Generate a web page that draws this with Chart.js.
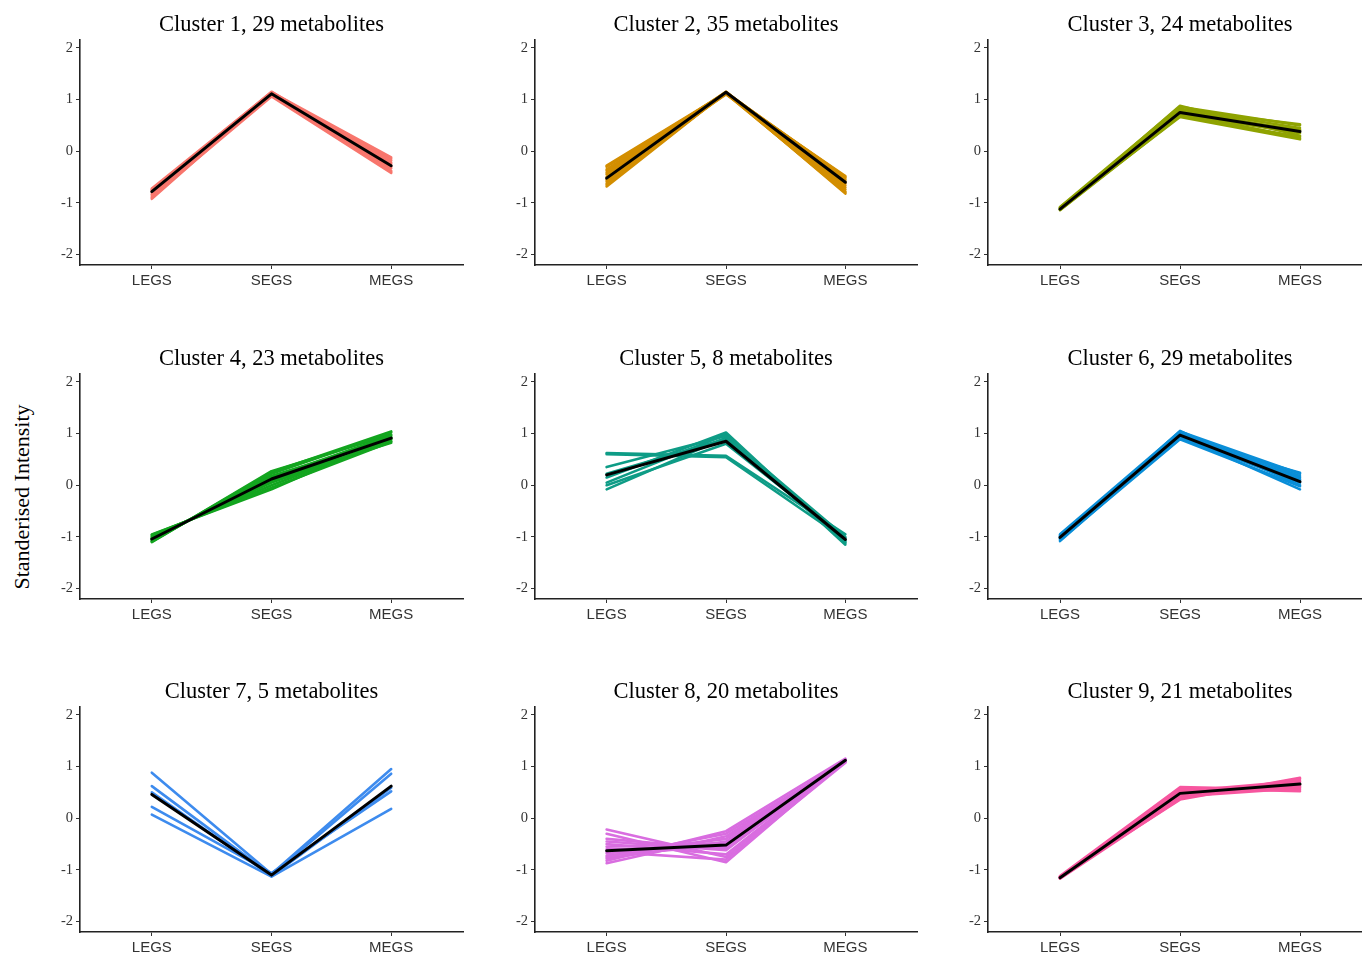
<!DOCTYPE html>
<html>
<head>
<meta charset="utf-8">
<title>Metabolite clusters</title>
<script src="https://cdn.jsdelivr.net/npm/chart.js@4"></script>
<style>
  html, body { margin: 0; padding: 0; background: #fff; overflow: hidden; }
  #wrap { position: relative; width: 1362px; height: 953px; }
  #wrap canvas { position: absolute; }
  #ylab {
    position: absolute; left: 22px; top: 497px;
    transform: translate(-50%, -50%) rotate(-90deg);
    font: 22px "Liberation Serif", "Times New Roman", serif;
    color: #000; white-space: nowrap;
  }
</style>
</head>
<body>
<div id="wrap">
  <div id="ylab">Standerised Intensity</div>
</div>
<script>
// 時期（x軸カテゴリ）
const stages = ['LEGS', 'SEGS', 'MEGS'];
const yTicks = [-2, -1, 0, 1, 2];

const clusterTitles = [
  'Cluster 1, 29 metabolites', 'Cluster 2, 35 metabolites', 'Cluster 3, 24 metabolites',
  'Cluster 4, 23 metabolites', 'Cluster 5, 8 metabolites', 'Cluster 6, 29 metabolites',
  'Cluster 7, 5 metabolites', 'Cluster 8, 20 metabolites', 'Cluster 9, 21 metabolites'
];

const clusterColors = ['#F8766D', '#D38E00', '#8FA300', '#13A51F', '#0E9C86',
                       '#0A8ED8', '#3D8BEE', '#D96DE0', '#F7569F'];

// 各クラスタの個別代謝物（目視で読んだ値）
const cluster1 = [[-0.72,1.14,-0.12],[-0.75,1.12,-0.18],[-0.80,1.10,-0.22],[-0.85,1.08,-0.30],[-0.90,1.13,-0.38],
                  [-0.88,1.06,-0.42],[-0.77,1.15,-0.25],[-0.83,1.11,-0.33],[-0.74,1.09,-0.15],[-0.92,1.12,-0.40]];
const cluster2 = [[-0.28,1.13,-0.50],[-0.35,1.14,-0.55],[-0.42,1.12,-0.62],[-0.50,1.15,-0.70],[-0.58,1.11,-0.78],
                  [-0.65,1.14,-0.82],[-0.45,1.10,-0.48],[-0.62,1.13,-0.66],[-0.38,1.15,-0.74],[-0.55,1.12,-0.58],
                  [-0.68,1.14,-0.52],[-0.30,1.12,-0.80]];
const cluster3 = [[-1.08,0.86,0.50],[-1.10,0.82,0.45],[-1.12,0.78,0.40],[-1.13,0.72,0.35],[-1.14,0.68,0.28],
                  [-1.11,0.66,0.23],[-1.09,0.80,0.52],[-1.13,0.70,0.42],[-1.12,0.88,0.30],[-1.10,0.74,0.25]];
const cluster4 = [[-0.96,-0.05,0.84],[-0.98,0.00,0.88],[-1.02,0.08,0.92],[-1.05,0.15,0.96],[-1.08,0.22,1.02],
                  [-1.10,0.27,0.98],[-1.00,0.05,0.85],[-1.06,0.18,0.90],[-0.95,-0.08,0.93],[-1.09,0.25,1.04],
                  [-1.03,0.10,0.82]];
const cluster5 = [[0.62,0.57,-0.95],[0.60,0.54,-1.05],[0.35,0.95,-1.00],[0.22,0.90,-1.08],
                  [0.15,1.02,-1.12],[0.05,0.98,-1.15],[0.00,0.80,-1.02],[-0.08,0.92,-1.10]];
const cluster6 = [[-0.95,1.04,0.22],[-0.98,1.00,0.18],[-1.00,0.96,0.12],[-1.03,0.92,0.05],[-1.06,0.89,-0.02],
                  [-1.08,0.95,-0.08],[-0.97,0.90,0.24],[-1.04,1.05,0.00],[-1.01,0.98,0.10],[-0.99,0.93,0.15]];
const cluster7 = [[0.88,-1.08,0.95],[0.62,-1.10,0.86],[0.50,-1.12,0.59],[0.22,-1.06,0.52],[0.07,-1.13,0.18]];
const cluster8 = [[-0.22,-0.75,1.10],[-0.30,-0.85,1.12],[-0.45,-0.62,1.14],[-0.55,-0.48,1.08],[-0.60,-0.55,1.11],
                  [-0.68,-0.40,1.13],[-0.75,-0.30,1.10],[-0.82,-0.25,1.15],[-0.87,-0.35,1.09],[-0.50,-0.70,1.12],
                  [-0.65,-0.80,1.07],[-0.78,-0.45,1.13],[-0.40,-0.60,1.11],[-0.72,-0.52,1.10]];
const cluster9 = [[-1.12,0.60,0.55],[-1.14,0.56,0.60],[-1.15,0.50,0.65],[-1.16,0.44,0.70],[-1.17,0.38,0.76],
                  [-1.13,0.36,0.78],[-1.15,0.58,0.52],[-1.14,0.46,0.62],[-1.16,0.52,0.72],[-1.13,0.42,0.58]];

// クラスタ平均（黒線）
const clusterMeans = [[-0.78,1.11,-0.28],[-0.52,1.14,-0.60],[-1.12,0.75,0.38],
                      [-1.04,0.12,0.91],[0.20,0.85,-1.05],[-1.01,0.97,0.07],
                      [0.46,-1.10,0.62],[-0.63,-0.52,1.12],[-1.15,0.48,0.66]];

const clusters = [cluster1, cluster2, cluster3, cluster4, cluster5, cluster6, cluster7, cluster8, cluster9];

// パネル配置
const colLeft = [0, 455, 908];
const colPadRight = [7, 8, 6];
const rowTop = [0, 334, 667];
const W = 470, H = 300;

const serif = '"Liberation Serif", "Times New Roman", serif';
const sans = '"Liberation Sans", Arial, sans-serif';

function toPoints(vals) {
  return vals.map((v, i) => ({ x: i + 1, y: v }));
}

function makePanel(idx) {
  const col = idx % 3, row = Math.floor(idx / 3);
  const canvas = document.createElement('canvas');
  canvas.width = W;
  canvas.height = H;
  canvas.style.left = colLeft[col] + 'px';
  canvas.style.top = rowTop[row] + 'px';
  canvas.style.width = W + 'px';
  canvas.style.height = H + 'px';
  document.getElementById('wrap').appendChild(canvas);

  const datasets = clusters[idx].map(vals => ({
    data: toPoints(vals),
    borderColor: clusterColors[idx],
    borderWidth: 2.6,
    order: 1
  }));
  datasets.push({
    data: toPoints(clusterMeans[idx]),
    borderColor: '#000',
    borderWidth: 3,
    order: 0
  });

  new Chart(canvas, {
    type: 'line',
    data: { datasets: datasets },
    options: {
      responsive: false,
      animation: false,
      devicePixelRatio: 1,
      elements: {
        point: { radius: 0, hoverRadius: 0 },
        line: { tension: 0, borderCapStyle: 'round', borderJoinStyle: 'round' }
      },
      layout: { padding: { left: 0, right: colPadRight[col], top: 0, bottom: 0 } },
      scales: {
        x: {
          type: 'linear',
          min: 0.4,
          max: 3.6,
          afterBuildTicks: axis => { axis.ticks = stages.map((s, i) => ({ value: i + 1 })); },
          afterFit: axis => { axis.height = 35; },
          ticks: {
            callback: v => stages[v - 1],
            color: '#333',
            font: { family: sans, size: 15 },
            padding: 3,
            maxRotation: 0,
            autoSkip: false
          },
          grid: { drawOnChartArea: false, drawTicks: true, tickLength: 4, color: '#333' },
          border: { display: true, color: '#222', width: 1.6 }
        },
        y: {
          min: -2.2,
          max: 2.15,
          afterBuildTicks: axis => { axis.ticks = yTicks.map(v => ({ value: v })); },
          afterFit: axis => { axis.width = 80; },
          ticks: {
            color: '#333',
            font: { family: serif, size: 14.5 },
            padding: 3
          },
          grid: { drawOnChartArea: false, drawTicks: true, tickLength: 4, color: '#333' },
          border: { display: true, color: '#222', width: 1.6 }
        }
      },
      plugins: {
        legend: { display: false },
        tooltip: { enabled: false },
        title: {
          display: true,
          text: clusterTitles[idx],
          fullSize: false,
          color: '#000',
          font: { family: serif, size: 22.5, weight: 'normal', lineHeight: 1.2 },
          padding: { top: 12, bottom: 1 }
        }
      }
    }
  });
}

for (let i = 0; i < 9; i++) makePanel(i);
</script>
</body>
</html>
